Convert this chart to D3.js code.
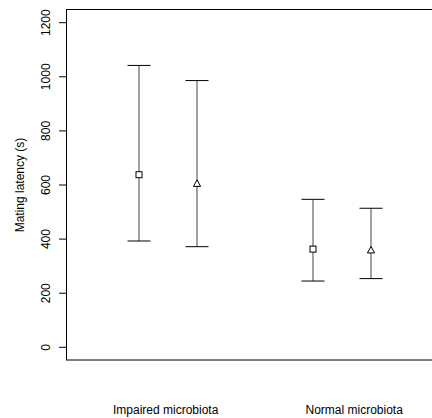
<!DOCTYPE html>
<html>
<head>
<meta charset="utf-8">
<script src="https://cdn.jsdelivr.net/npm/d3@7"></script>
<style>
body { margin: 0; background: #fff; }
svg text { font-family: "Liberation Sans", Arial, sans-serif; fill: #000; }
</style>
</head>
<body>
<div id="chart"></div>
<script>
// group positions along x (R style: 1,2 then 4,5)
var positions = [1, 2, 4, 5];
var means = [638, 604, 363, 358];
var upper = [1042, 986, 547, 514];
var lower = [393, 372, 245, 254];
var shapes = ["square", "triangle", "square", "triangle"];
var groupLabels = ["Impaired microbiota", "Normal microbiota"];
var groupLabelPos = [1.46, 4.71];
var yTicks = [0, 200, 400, 600, 800, 1000, 1200];

var width = 432, height = 418;
var svg = d3.select("#chart").append("svg")
    .attr("width", width)
    .attr("height", height);

var x = d3.scaleLinear().domain([1, 5]).range([139, 371]);
var y = d3.scaleLinear().domain([-48, 1248]).range([360.3, 9.7]);

// plot box (right edge is cut off by the image)
svg.append("rect")
    .attr("x", 66.5).attr("y", 9.5)
    .attr("width", 380).attr("height", 350.5)
    .attr("fill", "none").attr("stroke", "#000").attr("stroke-width", 1);

// y axis ticks + rotated labels
var yAxis = svg.append("g");
yAxis.selectAll("line").data(yTicks).enter().append("line")
    .attr("x1", 59).attr("x2", 66.5)
    .attr("y1", d => y(d)).attr("y2", d => y(d))
    .attr("stroke", "#000");
yAxis.selectAll("text").data(yTicks).enter().append("text")
    .attr("transform", d => `translate(50,${y(d)}) rotate(-90)`)
    .attr("text-anchor", "middle")
    .attr("font-size", 12)
    .text(d => d);

svg.append("text")
    .attr("transform", `translate(24,${y(600)}) rotate(-90)`)
    .attr("text-anchor", "middle")
    .attr("font-size", 12)
    .text("Mating latency (s)");

// error bars
var g = svg.append("g");
positions.forEach((p, i) => {
    var cx = x(p);
    g.append("line")
        .attr("x1", cx).attr("x2", cx)
        .attr("y1", y(lower[i])).attr("y2", y(upper[i]))
        .attr("stroke", "#444");
    [lower[i], upper[i]].forEach(v => {
        g.append("line")
            .attr("x1", cx - 11.5).attr("x2", cx + 11.5)
            .attr("y1", y(v)).attr("y2", y(v))
            .attr("stroke", "#000");
    });
    var cy = y(means[i]);
    if (shapes[i] === "square") {
        g.append("rect")
            .attr("x", cx - 3).attr("y", cy - 3)
            .attr("width", 6).attr("height", 6)
            .attr("fill", "#fff").attr("stroke", "#000");
    } else {
        g.append("path")
            .attr("d", `M${cx},${cy - 4} L${cx + 3.6},${cy + 2.5} L${cx - 3.6},${cy + 2.5} Z`)
            .attr("fill", "#fff").attr("stroke", "#000");
    }
});

// group labels
svg.selectAll(".glab").data(groupLabels).enter().append("text")
    .attr("class", "glab")
    .attr("x", (d, i) => x(groupLabelPos[i]))
    .attr("y", 413.5)
    .attr("text-anchor", "middle")
    .attr("font-size", 12)
    .text(d => d);
</script>
</body>
</html>
